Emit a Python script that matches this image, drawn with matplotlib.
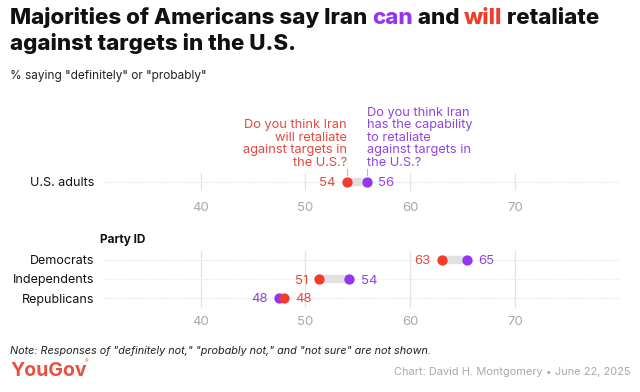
import matplotlib
matplotlib.use("Agg")
import matplotlib.pyplot as plt

plt.rcParams["font.family"] = ["Inter", "DejaVu Sans"]

# data
overall_label = ["U.S. adults"]
overall_will = [53.97]
overall_can = [55.84]

party_labels = ["Democrats", "Independents", "Republicans"]
party_will = [63.0, 51.3, 47.97]
party_can = [65.4, 54.2, 47.5]

ticks = [40, 50, 60, 70]

RED = "#F23D2C"
PURPLE = "#9436F0"
RED_TXT = "#E5483C"
PURPLE_TXT = "#8F45E3"
GRAY_TXT = "#A8A8A8"

W, H = 640, 392
fig = plt.figure(figsize=(6.4, 3.92), dpi=100)


def ax_at(x0, y0, x1, y1):
    return fig.add_axes([x0 / W, 1 - y1 / H, (x1 - x0) / W, (y1 - y0) / H])


def draw_rows(ax, labels, will, can, pad):
    n = len(labels)
    ax.set_xlim(30.7, 80)
    ax.set_ylim(n - 0.5, -0.5)
    ax.set_xticks(ticks)
    ax.set_yticks(range(n))
    ax.set_yticklabels(labels, fontsize=9, color="#111111")
    ax.tick_params(axis="y", length=0, pad=6)
    ax.tick_params(axis="x", length=0, pad=pad, labelsize=9.5, labelcolor=GRAY_TXT)
    for s in ax.spines.values():
        s.set_visible(False)
    ax.grid(axis="x", color="#E4E4E4", lw=0.9)
    ax.set_axisbelow(True)
    for i in range(n):
        ax.axhline(i, color="#E2E2E2", lw=0.8, ls=(0, (1, 1.2)), zorder=0)
        w, c = will[i], can[i]
        ax.plot([w, c], [i, i], color="#E1E1E1", lw=6, solid_capstyle="butt", zorder=1)
        ax.scatter([c], [i], s=55, color=PURPLE, zorder=3, linewidths=0)
        ax.scatter([w], [i], s=55, color=RED, zorder=4, linewidths=0)
        lo_is_will = w > c
        for v, col, is_low in [(w, RED_TXT, not lo_is_will), (c, PURPLE_TXT, lo_is_will)]:
            off = -8 if is_low else 8
            ax.annotate(f"{round(v)}", (v, i), xytext=(off, 0),
                        textcoords="offset points", va="center_baseline",
                        ha="right" if is_low else "left", fontsize=9.5, color=col)


ax1 = ax_at(103, 173, 620, 191)
draw_rows(ax1, overall_label, overall_will, overall_can, pad=8)

ax2 = ax_at(103, 250.5, 620, 307.5)
draw_rows(ax2, party_labels, party_will, party_can, pad=6)

# question annotations
ax1.text(overall_will[0], -0.72,
         "Do you think Iran\nwill retaliate\nagainst targets in\nthe U.S.?",
         ha="right", va="bottom", fontsize=9.2, color=RED_TXT, linespacing=1.07,
         clip_on=False)
ax1.text(overall_can[0], -0.72,
         "Do you think Iran\nhas the capability\nto retaliate\nagainst targets in\nthe U.S.?",
         ha="left", va="bottom", fontsize=9.2, color=PURPLE_TXT, linespacing=1.07,
         clip_on=False)
for v in [overall_will[0], overall_can[0]]:
    ax1.plot([v, v], [-0.38, -0.7], color="#BBBBBB", lw=0.8, clip_on=False)

# title with coloured words
renderer = fig.canvas.get_renderer()
parts = [("Majorities of Americans say Iran ", "#111111"), ("can", PURPLE),
         (" and ", "#111111"), ("will", RED), (" retaliate", "#111111")]
x = 10 / W
for txt, col in parts:
    t = fig.text(x, 1 - 18 / H, txt, fontsize=16.1, fontweight="heavy", color=col,
                 va="center")
    bb = t.get_window_extent(renderer)
    x = bb.x1 / W
fig.text(10 / W, 1 - 43 / H, "against targets in the U.S.", fontsize=16.1,
         fontweight="heavy", color="#111111", va="center")
fig.text(10 / W, 1 - 76 / H, '% saying "definitely" or "probably"', fontsize=8.5,
         color="#222222", va="center")

fig.text(100 / W, 1 - 240 / H, "Party ID", fontsize=8.5, fontweight="bold",
         color="#111111", va="center")

fig.text(10 / W, 1 - 351 / H,
         'Note: Responses of "definitely not," "probably not," and "not sure" are not shown.',
         fontsize=7.8, style="italic", color="#222222", va="center")
fig.text(10 / W, 1 - 371 / H, "YouGov", fontsize=14, fontweight="bold",
         color="#E8503F", va="center")
fig.text(85 / W, 1 - 362 / H, "®", fontsize=4, color="#E8503F", va="center")
fig.text(630 / W, 1 - 372 / H, "Chart: David H. Montgomery • June 22, 2025",
         fontsize=7.9, color=GRAY_TXT, ha="right", va="center")

fig.savefig("out.png", dpi=100, facecolor="white")
